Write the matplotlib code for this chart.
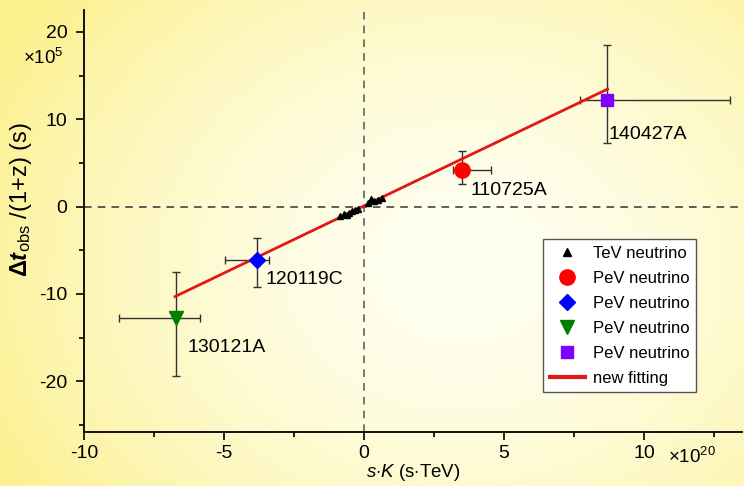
import numpy as np
import matplotlib
matplotlib.use("Agg")
import matplotlib.pyplot as plt
from matplotlib.lines import Line2D

plt.rcParams['font.family'] = ['Liberation Sans', 'DejaVu Sans']
plt.rcParams['mathtext.fontset'] = 'custom'
plt.rcParams['mathtext.rm'] = 'Liberation Sans'
plt.rcParams['mathtext.it'] = 'Liberation Sans:italic'
plt.rcParams['mathtext.bf'] = 'Liberation Sans:bold'
plt.rcParams['mathtext.bfit'] = 'Liberation Sans:bold:italic'
plt.rcParams['axes.unicode_minus'] = False

# ---- data (x in 1e20 s*TeV, y in 1e5 s) ----
tev_x = [-0.85, -0.72, -0.62, -0.52, -0.42, -0.32, -0.22, 0.15, 0.25, 0.36, 0.5, 0.66]
tev_y = [-1.1, -0.9, -1.0, -0.7, -0.55, -0.4, -0.3, 0.45, 0.9, 0.6, 0.8, 1.0]

pev_names = ['110725A', '120119C', '130121A', '140427A']
pev_x = [3.49, -3.81, -6.71, 8.68]
pev_y = [4.18, -6.13, -12.8, 12.2]
pev_xerr_lo = [0.31, 1.15, 2.03, 0.97]
pev_xerr_hi = [1.03, 0.42, 0.85, 4.39]
pev_yerr_lo = [1.6, 3.05, 6.6, 4.9]
pev_yerr_hi = [2.2, 2.5, 5.3, 6.3]
pev_marker = ['o', 'D', 'v', 's']
pev_msize = [11, 8.5, 10, 8]
pev_color = ['#ff0000', '#0000ff', '#007f00', '#8000ff']

fit_x = [-6.75, 8.7]
fit_y = [-10.3, 13.45]

# ---- figure ----
fig = plt.figure(figsize=(7.44, 4.86), dpi=100)

# yellow gradient background
bg = fig.add_axes([0, 0, 1, 1], zorder=-10)
gx, gy = np.meshgrid(np.linspace(0, 1, 300), np.linspace(0, 1, 200))
d = np.sqrt(((gx - 0.62) / 0.72) ** 2 + ((gy - 0.45) / 0.9) ** 2)
d = np.clip(d, 0, 1)
c0 = np.array([255, 255, 242]) / 255.0
c1 = np.array([252, 240, 140]) / 255.0
img = c0[None, None, :] + (c1 - c0)[None, None, :] * (d ** 1.6)[:, :, None]
bg.imshow(img, extent=[0, 1, 0, 1], aspect='auto', origin='lower')
bg.axis('off')

ax = fig.add_axes([84 / 744, 1 - 432 / 486, (742 - 84) / 744, (432 - 10) / 486])
ax.patch.set_alpha(0)

ax.axhline(0, color='#333333', ls=(0, (5, 4)), lw=1.1, zorder=1)
ax.axvline(0, color='#555555', ls=(0, (5, 4)), lw=1.1, zorder=1)

ax.plot(fit_x, fit_y, color='#e01818', lw=2, zorder=3)

ax.plot(tev_x, tev_y, ls='none', marker='^', color='black', ms=5, zorder=4)

for i in range(len(pev_x)):
    ax.errorbar([pev_x[i]], [pev_y[i]],
                xerr=[[pev_xerr_lo[i]], [pev_xerr_hi[i]]],
                yerr=[[pev_yerr_lo[i]], [pev_yerr_hi[i]]],
                fmt='none', ecolor='#333333', elinewidth=1, capsize=3, capthick=1, zorder=2)
    ax.plot([pev_x[i]], [pev_y[i]], ls='none', marker=pev_marker[i], color=pev_color[i],
            ms=pev_msize[i], zorder=5)

label_off = [(0.3, -2.3), (0.3, -2.2), (0.39, -3.3), (0.05, -4.0)]
for i in range(len(pev_x)):
    ax.text(pev_x[i] + label_off[i][0], pev_y[i] + label_off[i][1], pev_names[i],
            fontsize=14, ha='left', va='center', zorder=6)

ax.set_xlim(-10, 13.5)
ax.set_ylim(-25.8, 22.5)
ax.set_xticks([-10, -5, 0, 5, 10])
ax.set_xticks([-7.5, -2.5, 2.5, 7.5, 12.5], minor=True)
ax.set_yticks([-20, -10, 0, 10, 20])
ax.set_yticks([-25, -15, -5, 5, 15], minor=True)
ax.tick_params(axis='both', which='major', labelsize=14, length=6, width=1.2, direction='out')
ax.tick_params(axis='y', which='major', pad=6)
ax.tick_params(axis='both', which='minor', length=3.5, width=1.2, direction='out')

for s in ['top', 'right']:
    ax.spines[s].set_visible(False)
for s in ['left', 'bottom']:
    ax.spines[s].set_linewidth(1.3)

ax.set_xlabel(r'$s{\cdot}K$ (s$\cdot$TeV)', fontsize=13.5, labelpad=0)
ax.set_ylabel(r'$\mathbf{\Delta}\mathbfit{t}_{\mathrm{obs}}$ /(1+z) (s)', fontsize=17)
ax.yaxis.set_label_coords((34 - 84) / 658, 1 - (200 - 10) / 422)

fig.text(23 / 744, 1 - 58 / 486, r'×10$^{5}$', fontsize=13.5, ha='left', va='center')
fig.text(668 / 744, 1 - 457 / 486, r'×10$^{20}$', fontsize=13.5, ha='left', va='center')

# legend
handles = [Line2D([], [], ls='none', marker='^', color='black', ms=6)]
for i in range(len(pev_x)):
    handles.append(Line2D([], [], ls='none', marker=pev_marker[i], color=pev_color[i],
                          ms=pev_msize[i]))
handles.append(Line2D([], [], color='#e01818', lw=3))
labels = ['TeV neutrino'] + ['PeV neutrino'] * 4 + ['new fitting']
leg = ax.legend(handles, labels, loc='upper left',
                bbox_to_anchor=((543 - 84) / 658, 1 - (239 - 10) / 422), borderaxespad=0,
                fontsize=12, frameon=True, fancybox=False, edgecolor='#555555',
                framealpha=1, facecolor='white', handlelength=2.1, borderpad=0.4,
                labelspacing=0.6, handletextpad=0.5)
leg.get_frame().set_linewidth(1)

fig.savefig('out.png', dpi=100)
